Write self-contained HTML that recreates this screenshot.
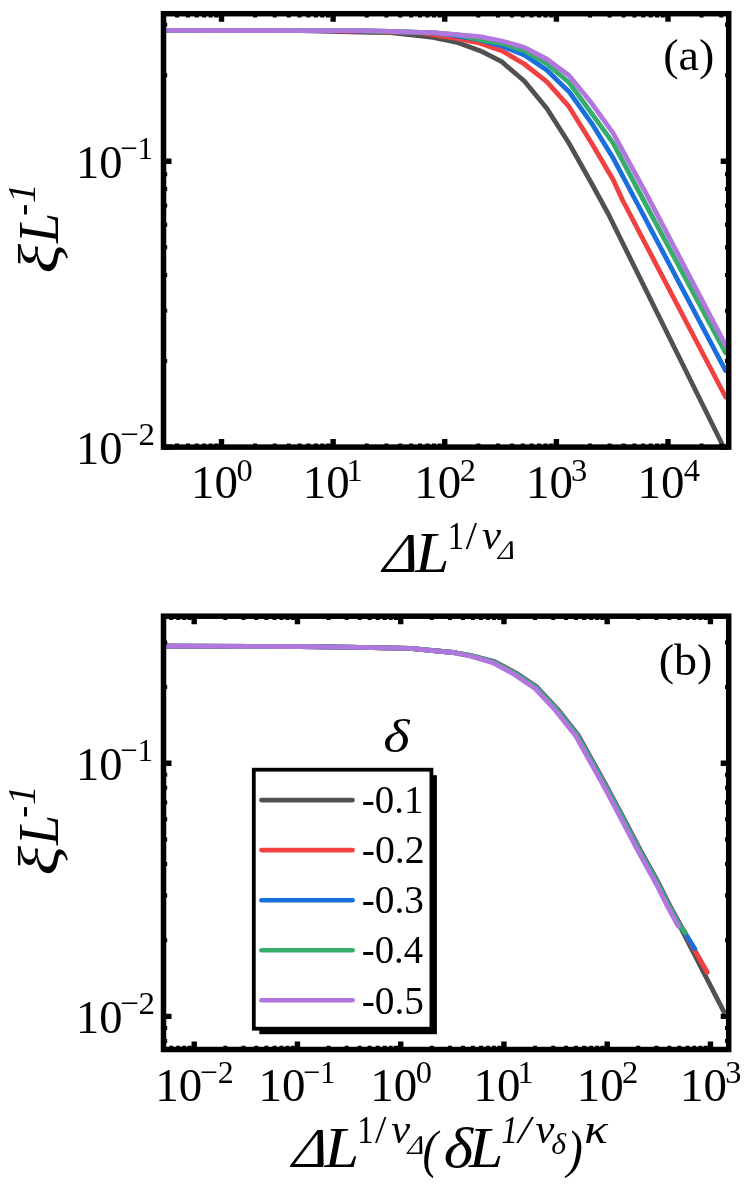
<!DOCTYPE html>
<html><head><meta charset="utf-8"><title>chart</title>
<style>
html,body{margin:0;padding:0;background:#fff;}
body{width:747px;height:1187px;overflow:hidden;}
svg{display:block;will-change:transform;}
text{font-family:"Liberation Serif",serif;fill:#000;font-kerning:none;}
.i{font-style:italic;}
</style></head><body>
<svg width="747" height="1187" viewBox="0 0 747 1187">
<rect width="747" height="1187" fill="#fff"/>
<clipPath id="ca"><rect x="163.5" y="13.7" width="565.2" height="433.40000000000003"/></clipPath>
<g clip-path="url(#ca)">
<path d="M160.0 30.3 L300.0 30.7 L330.0 31.4 L350.0 31.8 L360.0 32.0 L370.0 32.3 L390.0 32.7 L420.0 35.9 L433.0 37.3 L433.3 37.4 L440.0 38.8 L450.0 40.9 L456.7 42.3 L480.0 50.7 L485.0 53.2 L501.7 61.7 L524.3 81.0 L546.7 108.3 L569.0 143.3 L593.0 186.0 L608.3 214.0 L721.2 442.3 L727.0 454.0" stroke="#515151" stroke-width="4.8" fill="none" stroke-linejoin="round" stroke-linecap="round"/>
<path d="M160.0 30.3 L300.0 30.6 L330.0 30.7 L350.0 31.1 L360.0 31.3 L370.0 31.5 L390.0 32.0 L420.0 32.6 L433.0 34.7 L433.3 34.7 L440.0 35.8 L450.0 37.3 L456.7 38.4 L480.0 43.2 L485.0 44.9 L501.7 50.7 L524.3 64.0 L546.7 81.7 L569.0 106.7 L591.7 143.3 L613.3 180.0 L622.5 200.0 L658.2 268.3 L725.6 397.0" stroke="#f14040" stroke-width="4.8" fill="none" stroke-linejoin="round" stroke-linecap="round"/>
<path d="M160.0 30.3 L300.0 30.6 L330.0 30.7 L350.0 30.7 L360.0 31.0 L370.0 31.2 L390.0 31.7 L420.0 32.5 L433.0 32.8 L433.3 32.8 L440.0 33.3 L450.0 34.8 L456.7 35.9 L480.0 40.0 L485.0 41.4 L501.7 46.0 L524.3 55.0 L546.7 70.0 L569.0 91.7 L591.7 123.3 L613.3 158.3 L635.4 200.0 L725.6 370.6" stroke="#1a6fdf" stroke-width="4.8" fill="none" stroke-linejoin="round" stroke-linecap="round"/>
<path d="M160.0 30.3 L300.0 30.6 L330.0 30.6 L350.0 30.7 L360.0 30.7 L370.0 31.0 L390.0 31.5 L420.0 32.3 L433.0 32.7 L433.3 32.7 L440.0 33.3 L450.0 34.1 L456.7 34.7 L480.0 39.6 L485.0 40.7 L501.7 43.3 L524.3 50.7 L546.7 63.6 L569.0 82.5 L591.7 113.3 L613.3 143.3 L643.4 200.0 L725.6 352.8" stroke="#37ad6b" stroke-width="4.8" fill="none" stroke-linejoin="round" stroke-linecap="round"/>
<path d="M160.0 30.3 L300.0 30.6 L330.0 30.6 L350.0 30.7 L360.0 30.7 L370.0 30.7 L390.0 31.3 L420.0 32.3 L433.0 32.7 L433.3 32.7 L440.0 33.3 L450.0 34.1 L456.7 34.7 L480.0 36.7 L485.0 37.7 L501.7 41.0 L524.3 47.3 L546.7 59.0 L569.0 75.5 L591.7 103.3 L613.3 133.3 L649.6 200.0 L725.6 345.2" stroke="#b177de" stroke-width="4.8" fill="none" stroke-linejoin="round" stroke-linecap="round"/>
</g>
<path d="M221.50 447.1v-8.0M221.50 13.7v8.0M333.12 447.1v-8.0M333.12 13.7v8.0M444.75 447.1v-8.0M444.75 13.7v8.0M556.38 447.1v-8.0M556.38 13.7v8.0M668.00 447.1v-8.0M668.00 13.7v8.0M163.5 447.10h8.0M728.7 447.10h-8.0M163.5 161.20h8.0M728.7 161.20h-8.0" stroke="#000" stroke-width="5.4" fill="none"/>
<path d="M177.08 447.1v-3.7M177.08 13.7v3.7M187.90 447.1v-3.7M187.90 13.7v3.7M196.74 447.1v-3.7M196.74 13.7v3.7M204.21 447.1v-3.7M204.21 13.7v3.7M210.68 447.1v-3.7M210.68 13.7v3.7M216.39 447.1v-3.7M216.39 13.7v3.7M255.10 447.1v-3.7M255.10 13.7v3.7M274.76 447.1v-3.7M274.76 13.7v3.7M288.70 447.1v-3.7M288.70 13.7v3.7M299.52 447.1v-3.7M299.52 13.7v3.7M308.36 447.1v-3.7M308.36 13.7v3.7M315.83 447.1v-3.7M315.83 13.7v3.7M322.31 447.1v-3.7M322.31 13.7v3.7M328.02 447.1v-3.7M328.02 13.7v3.7M366.73 447.1v-3.7M366.73 13.7v3.7M386.38 447.1v-3.7M386.38 13.7v3.7M400.33 447.1v-3.7M400.33 13.7v3.7M411.15 447.1v-3.7M411.15 13.7v3.7M419.99 447.1v-3.7M419.99 13.7v3.7M427.46 447.1v-3.7M427.46 13.7v3.7M433.93 447.1v-3.7M433.93 13.7v3.7M439.64 447.1v-3.7M439.64 13.7v3.7M478.35 447.1v-3.7M478.35 13.7v3.7M498.01 447.1v-3.7M498.01 13.7v3.7M511.95 447.1v-3.7M511.95 13.7v3.7M522.77 447.1v-3.7M522.77 13.7v3.7M531.61 447.1v-3.7M531.61 13.7v3.7M539.08 447.1v-3.7M539.08 13.7v3.7M545.56 447.1v-3.7M545.56 13.7v3.7M551.27 447.1v-3.7M551.27 13.7v3.7M589.98 447.1v-3.7M589.98 13.7v3.7M609.63 447.1v-3.7M609.63 13.7v3.7M623.58 447.1v-3.7M623.58 13.7v3.7M634.40 447.1v-3.7M634.40 13.7v3.7M643.24 447.1v-3.7M643.24 13.7v3.7M650.71 447.1v-3.7M650.71 13.7v3.7M657.18 447.1v-3.7M657.18 13.7v3.7M662.89 447.1v-3.7M662.89 13.7v3.7M701.60 447.1v-3.7M701.60 13.7v3.7M721.26 447.1v-3.7M721.26 13.7v3.7M163.5 361.04h3.7M728.7 361.04h-3.7M163.5 310.69h3.7M728.7 310.69h-3.7M163.5 274.97h3.7M728.7 274.97h-3.7M163.5 247.26h3.7M728.7 247.26h-3.7M163.5 224.63h3.7M728.7 224.63h-3.7M163.5 205.49h3.7M728.7 205.49h-3.7M163.5 188.91h3.7M728.7 188.91h-3.7M163.5 174.28h3.7M728.7 174.28h-3.7M163.5 75.14h3.7M728.7 75.14h-3.7M163.5 24.79h3.7M728.7 24.79h-3.7" stroke="#000" stroke-width="4.0" fill="none"/>
<rect x="163.5" y="13.7" width="565.2" height="433.40000000000003" fill="none" stroke="#000" stroke-width="5.5"/>
<text transform="translate(191.08 498.20) scale(0.994 1)" font-size="47.2">10</text><text transform="translate(236.57 480.60) scale(1.000 1)" font-size="32.4">0</text>
<text transform="translate(302.70 498.20) scale(0.994 1)" font-size="47.2">10</text><text transform="translate(346.58 480.60) scale(1.000 1)" font-size="32.4">1</text>
<text transform="translate(414.33 498.20) scale(0.994 1)" font-size="47.2">10</text><text transform="translate(459.63 480.60) scale(1.000 1)" font-size="32.4">2</text>
<text transform="translate(525.95 498.20) scale(0.994 1)" font-size="47.2">10</text><text transform="translate(571.12 480.60) scale(1.000 1)" font-size="32.4">3</text>
<text transform="translate(637.58 498.20) scale(0.994 1)" font-size="47.2">10</text><text transform="translate(683.67 480.60) scale(1.000 1)" font-size="32.4">4</text>
<text transform="translate(76.02 177.80) scale(0.984 1)" font-size="47.2">10</text><text transform="translate(120.05 159.00) scale(0.958 1)" font-size="32.4">−1</text>
<text transform="translate(76.02 463.70) scale(0.984 1)" font-size="47.2">10</text><text transform="translate(119.95 444.90) scale(1.020 1)" font-size="32.4">−2</text>
<text transform="translate(663.17 70.20) scale(1.047 1)" font-size="44">(a)</text>
<g transform="translate(58.2 272) rotate(-90)"><text class="i" transform="translate(-1.56 0.00) scale(1.234 1)" font-size="56">ξ</text><text class="i" transform="translate(28.93 0.00) scale(0.964 1)" font-size="56">L</text><text class="i" transform="translate(56.37 -23.20) scale(0.913 1)" font-size="39.2">-</text><text class="i" transform="translate(69.10 -23.20) scale(1.001 1)" font-size="39.2">1</text></g>
<text class="i" transform="translate(382.54 571.80) scale(1.042 1) skewX(-8)" font-size="56">Δ</text><text class="i" transform="translate(415.32 571.80) scale(1.094 1)" font-size="56">L</text><text transform="translate(447.63 548.80) scale(0.833 1)" font-size="39.2">1</text><text transform="translate(465.70 548.80) scale(1.028 1)" font-size="39.2">/</text><text class="i" transform="translate(482.02 548.80) scale(1.091 1)" font-size="39.2">ν</text><text class="i" transform="translate(497.73 559.10) scale(1.040 1) skewX(-8)" font-size="26.8">Δ</text>
<clipPath id="cb"><rect x="163.5" y="616.2" width="565.2" height="433.29999999999995"/></clipPath>
<g clip-path="url(#cb)">
<path d="M160.0 646.2 L300.0 646.5 L360.0 647.3 L410.0 648.3 L453.6 652.6 L470.6 655.7 L493.7 662.1 L514.8 673.3 L535.7 687.3 L556.6 709.6 L577.1 735.4 L603.7 783.1 L621.7 816.8 L639.4 850.5 L658.0 884.2 L668.9 906.1 L679.5 925.5 L723.8 1011.7" stroke="#515151" stroke-width="4.8" fill="none" stroke-linejoin="round" stroke-linecap="round"/>
<path d="M160.0 646.2 L300.0 646.5 L360.0 647.3 L410.0 648.3 L453.8 652.5 L471.1 655.5 L494.6 661.6 L515.8 672.8 L536.7 686.8 L557.6 709.1 L578.1 734.9 L604.7 782.6 L622.7 816.3 L640.4 850.0 L659.0 883.7 L669.9 905.6 L680.5 925.0 L707.2 972.3" stroke="#f14040" stroke-width="4.8" fill="none" stroke-linejoin="round" stroke-linecap="round"/>
<path d="M160.0 646.2 L300.0 646.5 L360.0 647.3 L410.0 648.3 L453.7 652.5 L470.9 655.5 L494.3 661.8 L515.4 673.0 L536.3 687.0 L557.2 709.3 L577.7 735.1 L604.3 782.8 L622.3 816.5 L640.0 850.2 L658.6 883.9 L669.5 905.8 L680.1 925.2 L694.8 948.8" stroke="#1a6fdf" stroke-width="4.8" fill="none" stroke-linejoin="round" stroke-linecap="round"/>
<path d="M160.0 646.2 L300.0 646.5 L360.0 647.3 L410.0 648.3 L453.6 652.5 L470.7 655.6 L493.8 662.0 L514.9 673.2 L535.8 687.2 L556.7 709.5 L577.2 735.3 L603.8 783.0 L621.8 816.7 L639.5 850.4 L658.1 884.1 L669.0 906.0 L679.6 925.4 L685.3 932.8" stroke="#37ad6b" stroke-width="4.8" fill="none" stroke-linejoin="round" stroke-linecap="round"/>
<path d="M160.0 646.2 L300.0 646.5 L360.0 647.3 L410.0 648.3 L453.3 652.7 L470.0 656.0 L492.6 662.6 L513.5 673.9 L534.4 687.9 L555.3 710.2 L575.8 736.0 L602.4 783.7 L620.4 817.4 L638.1 851.1 L656.7 884.8 L667.6 906.7 L678.2 926.1" stroke="#b177de" stroke-width="4.8" fill="none" stroke-linejoin="round" stroke-linecap="round"/>
</g>
<path d="M194.22 1049.5v-8.0M194.22 616.2v8.0M297.46 1049.5v-8.0M297.46 616.2v8.0M400.70 1049.5v-8.0M400.70 616.2v8.0M503.94 1049.5v-8.0M503.94 616.2v8.0M607.18 1049.5v-8.0M607.18 616.2v8.0M710.42 1049.5v-8.0M710.42 616.2v8.0M163.5 1016.40h8.0M728.7 1016.40h-8.0M163.5 763.20h8.0M728.7 763.20h-8.0" stroke="#000" stroke-width="5.4" fill="none"/>
<path d="M171.32 1049.5v-3.7M171.32 616.2v3.7M178.23 1049.5v-3.7M178.23 616.2v3.7M184.22 1049.5v-3.7M184.22 616.2v3.7M189.50 1049.5v-3.7M189.50 616.2v3.7M225.30 1049.5v-3.7M225.30 616.2v3.7M243.48 1049.5v-3.7M243.48 616.2v3.7M256.38 1049.5v-3.7M256.38 616.2v3.7M266.38 1049.5v-3.7M266.38 616.2v3.7M274.56 1049.5v-3.7M274.56 616.2v3.7M281.47 1049.5v-3.7M281.47 616.2v3.7M287.46 1049.5v-3.7M287.46 616.2v3.7M292.74 1049.5v-3.7M292.74 616.2v3.7M328.54 1049.5v-3.7M328.54 616.2v3.7M346.72 1049.5v-3.7M346.72 616.2v3.7M359.62 1049.5v-3.7M359.62 616.2v3.7M369.62 1049.5v-3.7M369.62 616.2v3.7M377.80 1049.5v-3.7M377.80 616.2v3.7M384.71 1049.5v-3.7M384.71 616.2v3.7M390.70 1049.5v-3.7M390.70 616.2v3.7M395.98 1049.5v-3.7M395.98 616.2v3.7M431.78 1049.5v-3.7M431.78 616.2v3.7M449.96 1049.5v-3.7M449.96 616.2v3.7M462.86 1049.5v-3.7M462.86 616.2v3.7M472.86 1049.5v-3.7M472.86 616.2v3.7M481.04 1049.5v-3.7M481.04 616.2v3.7M487.95 1049.5v-3.7M487.95 616.2v3.7M493.94 1049.5v-3.7M493.94 616.2v3.7M499.22 1049.5v-3.7M499.22 616.2v3.7M535.02 1049.5v-3.7M535.02 616.2v3.7M553.20 1049.5v-3.7M553.20 616.2v3.7M566.10 1049.5v-3.7M566.10 616.2v3.7M576.10 1049.5v-3.7M576.10 616.2v3.7M584.28 1049.5v-3.7M584.28 616.2v3.7M591.19 1049.5v-3.7M591.19 616.2v3.7M597.18 1049.5v-3.7M597.18 616.2v3.7M602.46 1049.5v-3.7M602.46 616.2v3.7M638.26 1049.5v-3.7M638.26 616.2v3.7M656.44 1049.5v-3.7M656.44 616.2v3.7M669.34 1049.5v-3.7M669.34 616.2v3.7M679.34 1049.5v-3.7M679.34 616.2v3.7M687.52 1049.5v-3.7M687.52 616.2v3.7M694.43 1049.5v-3.7M694.43 616.2v3.7M700.42 1049.5v-3.7M700.42 616.2v3.7M705.70 1049.5v-3.7M705.70 616.2v3.7M163.5 1040.94h3.7M728.7 1040.94h-3.7M163.5 1027.99h3.7M728.7 1027.99h-3.7M163.5 940.18h3.7M728.7 940.18h-3.7M163.5 895.59h3.7M728.7 895.59h-3.7M163.5 863.96h3.7M728.7 863.96h-3.7M163.5 839.42h3.7M728.7 839.42h-3.7M163.5 819.37h3.7M728.7 819.37h-3.7M163.5 802.42h3.7M728.7 802.42h-3.7M163.5 787.74h3.7M728.7 787.74h-3.7M163.5 774.79h3.7M728.7 774.79h-3.7M163.5 686.98h3.7M728.7 686.98h-3.7M163.5 642.39h3.7M728.7 642.39h-3.7" stroke="#000" stroke-width="4.0" fill="none"/>
<rect x="163.5" y="616.2" width="565.2" height="433.29999999999995" fill="none" stroke="#000" stroke-width="5.5"/>
<text transform="translate(155.20 1100.90) scale(0.994 1)" font-size="47.2">10</text><text transform="translate(199.74 1083.30) scale(0.982 1)" font-size="32.4">−2</text>
<text transform="translate(258.44 1100.90) scale(0.994 1)" font-size="47.2">10</text><text transform="translate(303.05 1083.30) scale(0.938 1)" font-size="32.4">−1</text>
<text transform="translate(370.28 1100.90) scale(0.994 1)" font-size="47.2">10</text><text transform="translate(415.77 1083.30) scale(1.000 1)" font-size="32.4">0</text>
<text transform="translate(473.52 1100.90) scale(0.994 1)" font-size="47.2">10</text><text transform="translate(517.39 1083.30) scale(1.000 1)" font-size="32.4">1</text>
<text transform="translate(576.76 1100.90) scale(0.994 1)" font-size="47.2">10</text><text transform="translate(622.06 1083.30) scale(1.000 1)" font-size="32.4">2</text>
<text transform="translate(680.00 1100.90) scale(0.994 1)" font-size="47.2">10</text><text transform="translate(725.17 1083.30) scale(1.000 1)" font-size="32.4">3</text>
<text transform="translate(76.02 779.80) scale(0.984 1)" font-size="47.2">10</text><text transform="translate(120.05 761.00) scale(0.958 1)" font-size="32.4">−1</text>
<text transform="translate(76.02 1033.00) scale(0.984 1)" font-size="47.2">10</text><text transform="translate(119.95 1014.20) scale(1.020 1)" font-size="32.4">−2</text>
<text transform="translate(658.68 674.90) scale(1.046 1)" font-size="44">(b)</text>
<g transform="translate(58.2 874) rotate(-90)"><text class="i" transform="translate(-1.56 0.00) scale(1.234 1)" font-size="56">ξ</text><text class="i" transform="translate(28.93 0.00) scale(0.964 1)" font-size="56">L</text><text class="i" transform="translate(56.37 -23.20) scale(0.913 1)" font-size="39.2">-</text><text class="i" transform="translate(69.10 -23.20) scale(1.001 1)" font-size="39.2">1</text></g>
<rect x="259.3" y="775.2" width="177.6" height="259.0" fill="#000"/>
<rect x="253.8" y="769.7" width="177.6" height="259.0" fill="#fff" stroke="#000" stroke-width="3.8"/>
<path d="M261.4 800.1H352.6" stroke="#515151" stroke-width="4.6" stroke-linecap="round"/><text transform="translate(361.76 813.40) scale(0.973 1)" font-size="40">-0.1</text>
<path d="M261.4 850.1H352.6" stroke="#f14040" stroke-width="4.6" stroke-linecap="round"/><text transform="translate(361.72 863.43) scale(0.994 1)" font-size="40">-0.2</text>
<path d="M261.4 900.2H352.6" stroke="#1a6fdf" stroke-width="4.6" stroke-linecap="round"/><text transform="translate(361.74 913.46) scale(0.984 1)" font-size="40">-0.3</text>
<path d="M261.4 950.2H352.6" stroke="#37ad6b" stroke-width="4.6" stroke-linecap="round"/><text transform="translate(361.76 963.49) scale(0.969 1)" font-size="40">-0.4</text>
<path d="M261.4 1000.2H352.6" stroke="#b177de" stroke-width="4.6" stroke-linecap="round"/><text transform="translate(361.74 1013.52) scale(0.984 1)" font-size="40">-0.5</text>
<text class="i" transform="translate(383.25 752.30) scale(1.207 1)" font-size="46.7">δ</text>
<text class="i" transform="translate(291.74 1166.90) scale(1.042 1) skewX(-8)" font-size="56">Δ</text><text class="i" transform="translate(324.53 1166.90) scale(1.112 1)" font-size="56">L</text><text transform="translate(357.33 1143.00) scale(0.833 1)" font-size="39.2">1</text><text transform="translate(375.10 1143.00) scale(1.047 1)" font-size="39.2">/</text><text class="i" transform="translate(391.32 1143.00) scale(1.085 1)" font-size="39.2">ν</text><text class="i" transform="translate(407.32 1153.60) scale(1.033 1) skewX(-8)" font-size="26.8">Δ</text><text class="i" transform="translate(422.38 1166.70) scale(0.870 1)" font-size="53">(</text><text class="i" transform="translate(443.85 1166.90) scale(1.126 1)" font-size="56">δ</text><text class="i" transform="translate(469.02 1166.90) scale(1.098 1)" font-size="56">L</text><text class="i" transform="translate(501.31 1143.00) scale(0.850 1)" font-size="39.2">1</text><text class="i" transform="translate(518.14 1143.00) scale(1.135 1)" font-size="39.2">/</text><text class="i" transform="translate(535.52 1143.00) scale(1.085 1)" font-size="39.2">ν</text><text class="i" transform="translate(551.37 1153.80) scale(1.122 1)" font-size="28.4">δ</text><text class="i" transform="translate(567.05 1166.70) scale(0.896 1)" font-size="53">)</text><text class="i" transform="translate(584.31 1143.00) scale(1.207 1)" font-size="40.5">κ</text>
</svg>
</body></html>
